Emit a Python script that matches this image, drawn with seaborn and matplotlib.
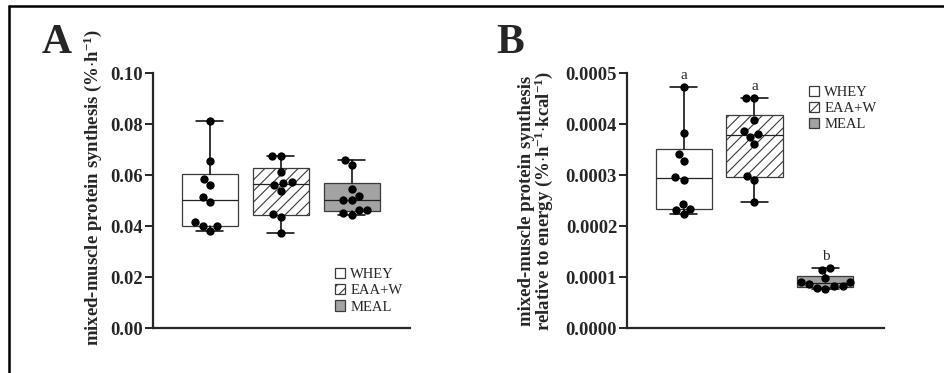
import numpy as np
import pandas as pd
import matplotlib
matplotlib.use("Agg")
import matplotlib.pyplot as plt
from matplotlib.patches import Patch
import seaborn as sns

# groups
groups = ["WHEY", "EAA+W", "MEAL"]

# panel A: mixed-muscle protein synthesis (%/h), 10 subjects per group
a_whey = [0.0812, 0.0654, 0.0586, 0.0562, 0.0514, 0.0494, 0.0416, 0.0399, 0.0399, 0.0379]
a_eaaw = [0.0675, 0.0675, 0.0610, 0.0559, 0.0573, 0.0570, 0.0539, 0.0448, 0.0435, 0.0373]
a_meal = [0.0660, 0.0640, 0.0546, 0.0518, 0.0501, 0.0501, 0.0464, 0.0461, 0.0451, 0.0442]

# panel B: synthesis relative to energy (%/h/kcal)
b_whey = [0.000473, 0.000382, 0.000341, 0.000327, 0.000297, 0.000291, 0.000243, 0.000234, 0.000232, 0.000223]
b_eaaw = [0.000451, 0.000451, 0.000407, 0.000386, 0.000381, 0.000375, 0.000361, 0.000298, 0.000291, 0.000248]
b_meal = [0.0001176, 0.000113, 0.000098, 0.000091, 0.000090, 0.000087, 0.000082, 0.000082, 0.000079, 0.000077]

b_letters = ["a", "a", "b"]

yticks_a = [0.00, 0.02, 0.04, 0.06, 0.08, 0.10]
yticks_b = [0.0000, 0.0001, 0.0002, 0.0003, 0.0004, 0.0005]

fills = ["white", "white", "#a3a3a3"]
hatches = ["", "///", ""]
edge = "#3a3a3a"

sns.set_style("ticks")
plt.rcParams["font.family"] = ["Liberation Serif", "DejaVu Serif"]
plt.rcParams["mathtext.fontset"] = "custom"
plt.rcParams["mathtext.rm"] = "Liberation Serif:bold"
plt.rcParams["mathtext.default"] = "rm"
plt.rcParams["hatch.linewidth"] = 0.8
plt.rcParams["hatch.color"] = "#222222"


def box_stats(vals):
    v = np.asarray(vals)
    q1, med, q3 = np.percentile(v, [25, 50, 75], method="weibull")
    return dict(med=med, q1=q1, q3=q3, whislo=v.min(), whishi=v.max(), fliers=[])


def panel(ax, data, yticks, fmt):
    stats = [box_stats(d) for d in data]
    bp = ax.bxp(stats, positions=range(len(groups)), widths=0.79,
                patch_artist=True, showfliers=False,
                boxprops=dict(linewidth=0.9, edgecolor=edge),
                medianprops=dict(color="#222222", linewidth=0.9),
                whiskerprops=dict(color="black", linewidth=1.1),
                capprops=dict(color="black", linewidth=1.1),
                capwidths=0.38)
    for patch, fc, h in zip(bp["boxes"], fills, hatches):
        patch.set_facecolor(fc)
        patch.set_hatch(h)
    df = pd.DataFrame({"group": np.repeat(groups, [len(d) for d in data]),
                       "value": np.concatenate(data)})
    sns.swarmplot(data=df, x="group", y="value", order=groups, color="black",
                  size=6, ax=ax, zorder=5)
    ax.set_xlim(-0.8, 2.82)
    ax.set_ylim(yticks[0], yticks[-1])
    ax.set_yticks(yticks)
    ax.set_yticklabels([fmt.format(t) for t in yticks], fontweight="bold", fontsize=13.3)
    ax.set_xticks([])
    ax.set_xlabel("")
    sns.despine(ax=ax)
    for s in ["left", "bottom"]:
        ax.spines[s].set_linewidth(1.6)
    ax.tick_params(axis="y", length=6, width=1.4, pad=1)
    return stats


fig = plt.figure(figsize=(9.44, 3.73), dpi=100)
axA = fig.add_axes([0.162, 0.1206, 0.272, 0.6836])
axB = fig.add_axes([0.664, 0.1206, 0.272, 0.6836])

panel(axA, [a_whey, a_eaaw, a_meal], yticks_a, "{:.2f}")
statsB = panel(axB, [b_whey, b_eaaw, b_meal], yticks_b, "{:.4f}")

axA.set_ylabel("mixed-muscle protein synthesis (%$\\cdot$h$^{-1}$)",
               fontweight="bold", fontsize=13.5)
axA.yaxis.set_label_coords(-0.19, 0.553)
axB.set_ylabel("mixed-muscle protein synthesis\nrelative to energy (%$\\cdot$h$^{-1}$$\\cdot$kcal$^{-1}$)",
               fontweight="bold", fontsize=13.5, linespacing=0.9)
axB.yaxis.set_label_coords(-0.278, 0.5)

for i, (st, let) in enumerate(zip(statsB, b_letters)):
    axB.text(i, st["whishi"] + 0.000022, let, ha="center", va="center", fontsize=11)

handles = [Patch(facecolor=fc, edgecolor=edge, hatch=h, linewidth=0.9, label=g)
           for g, fc, h in zip(groups, fills, hatches)]
for ax, anchor in [(axA, (0.67, 0.275)), (axB, (0.67, 0.99))]:
    ax.legend(handles=handles, loc="upper left", bbox_to_anchor=anchor, frameon=False,
              fontsize=10.5, handlelength=0.7, handleheight=0.7, handletextpad=0.35,
              labelspacing=0.2, borderpad=0.2)

fig.text(0.044, 1 - 53 / 373, "A", fontsize=30, fontweight="bold", va="baseline")
fig.text(0.526, 1 - 53 / 373, "B", fontsize=30, fontweight="bold", va="baseline")

# figure frame (top and left edges visible)
fig.add_artist(plt.Line2D([0.0095, 1.0], [0.984, 0.984], color="black", lw=1.8))
fig.add_artist(plt.Line2D([0.0095, 0.0095], [0.0, 0.984], color="black", lw=1.8))

fig.savefig("out.png", dpi=100)
